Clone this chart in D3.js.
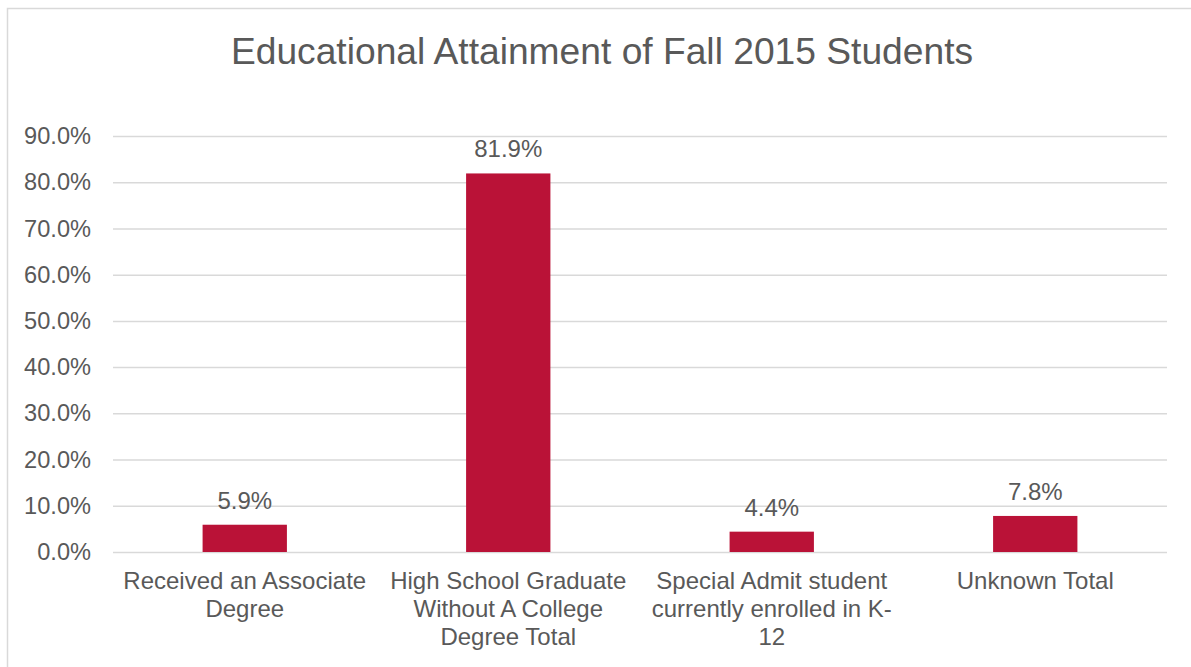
<!DOCTYPE html>
<html>
<head>
<meta charset="utf-8">
<script src="https://cdn.jsdelivr.net/npm/d3@7"></script>
<style>
  body { margin: 0; background: #fff; }
  text { font-family: "Liberation Sans", Arial, sans-serif; fill: #595959; }
</style>
</head>
<body>
<div id="chart"></div>
<script>
// data
var categories = [
    "Received an Associate\nDegree",
    "High School Graduate\nWithout A College\nDegree Total",
    "Special Admit student\ncurrently enrolled in K-\n12",
    "Unknown Total"
];
var values = [5.9, 81.9, 4.4, 7.8];
var yTicks = [0, 10, 20, 30, 40, 50, 60, 70, 80, 90];

var svgWidth = 1191;
var svgHeight = 667;

var margin = { top: 136, right: 24, bottom: 115, left: 113 };
var width = 1167 - margin.left;
var height = 552 - margin.top;

var svg = d3.select("#chart")
    .append("svg")
    .attr("width", svgWidth)
    .attr("height", svgHeight);

// chart border
svg.append("rect")
    .attr("x", 7.5)
    .attr("y", 8.5)
    .attr("width", 1200)
    .attr("height", 700)
    .attr("fill", "none")
    .attr("stroke", "#d9d9d9")
    .attr("stroke-width", 1.5);

svg.append("text")
    .attr("x", 602)
    .attr("y", 64)
    .attr("text-anchor", "middle")
    .attr("font-size", 37.2)
    .text("Educational Attainment of Fall 2015 Students");

var chartGroup = svg.append("g")
    .attr("transform", `translate(${margin.left}, ${margin.top})`);

var xScale = d3.scaleBand()
    .domain(categories)
    .range([0, width])
    .paddingInner(0.68)
    .paddingOuter(0.34);

var yScale = d3.scaleLinear()
    .domain([0, 90])
    .range([height, 0]);

// gridlines
chartGroup.append("g")
    .call(d3.axisLeft(yScale).tickValues(yTicks).tickSize(-width).tickFormat(""))
    .call(g => g.select(".domain").remove())
    .call(g => g.selectAll("line").attr("stroke", "#d9d9d9").attr("stroke-width", 1.5));

// y tick labels
chartGroup.append("g")
    .call(d3.axisLeft(yScale).tickValues(yTicks).tickSize(0).tickPadding(22)
        .tickFormat(d => d.toFixed(1) + "%"))
    .call(g => g.select(".domain").remove())
    .call(g => g.selectAll("text")
        .attr("font-size", 23.6)
        .attr("font-family", "Liberation Sans, Arial, sans-serif")
        .attr("fill", "#595959"));

// bars
chartGroup.selectAll("rect.bar")
    .data(values)
    .enter()
    .append("rect")
    .attr("class", "bar")
    .attr("x", (d, i) => xScale(categories[i]))
    .attr("y", d => yScale(d))
    .attr("width", xScale.bandwidth())
    .attr("height", d => height - yScale(d))
    .attr("fill", "#ba1237");

// value labels
chartGroup.selectAll("text.val")
    .data(values)
    .enter()
    .append("text")
    .attr("class", "val")
    .attr("x", (d, i) => xScale(categories[i]) + xScale.bandwidth() / 2)
    .attr("y", d => yScale(d) - 16)
    .attr("text-anchor", "middle")
    .attr("font-size", 24)
    .text(d => d.toFixed(1) + "%");

// category labels
var catLabels = chartGroup.selectAll("text.cat")
    .data(categories)
    .enter()
    .append("text")
    .attr("class", "cat")
    .attr("text-anchor", "middle")
    .attr("font-size", 24)
    .attr("transform", d => `translate(${xScale(d) + xScale.bandwidth() / 2}, ${height + 37})`);

catLabels.selectAll("tspan")
    .data(d => d.split("\n"))
    .enter()
    .append("tspan")
    .attr("x", 0)
    .attr("y", (d, i) => i * 28)
    .text(d => d);
</script>
</body>
</html>
